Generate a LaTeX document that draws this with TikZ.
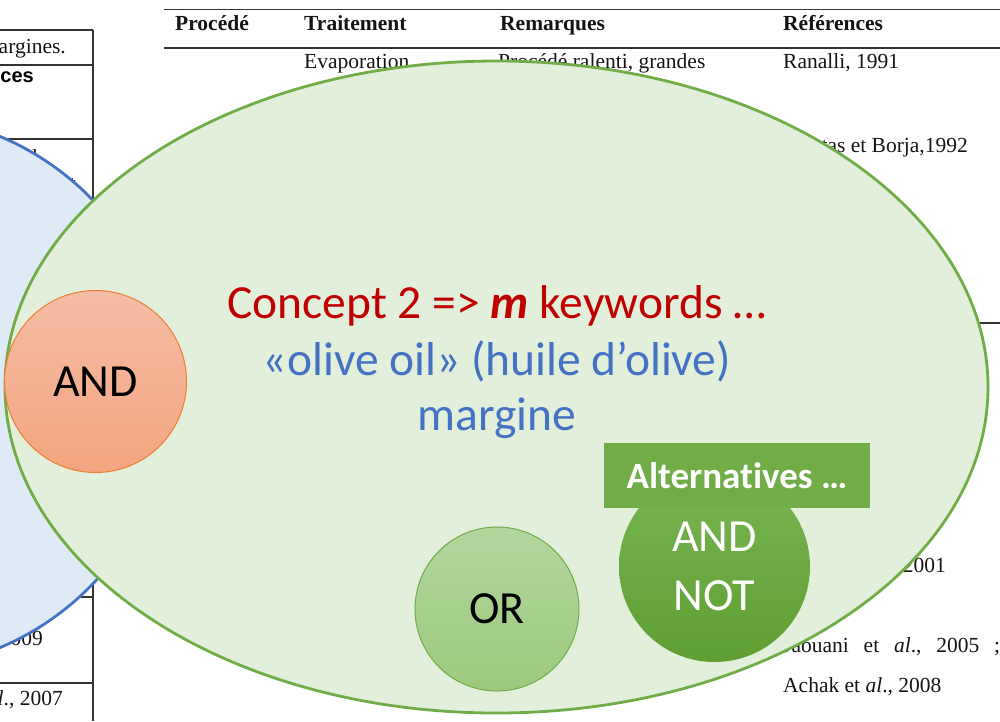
\documentclass[tikz,border=0pt]{standalone}
\usepackage{fontspec}
\setmainfont{Carlito}[Ligatures=NoCommon]
\newfontfamily\tnr{Liberation Serif}
\newfontfamily\arial{Liberation Sans}
\usetikzlibrary{shapes.geometric}
\definecolor{cfill}{HTML}{E2EFDA}
\definecolor{cdraw}{HTML}{70AD47}
\definecolor{bfill}{HTML}{DEEBF7}
\definecolor{bdraw}{HTML}{4472C4}
\definecolor{andtop}{HTML}{F5BDA5}
\definecolor{andbot}{HTML}{F4A480}
\definecolor{anddraw}{HTML}{ED7D31}
\definecolor{ortop}{HTML}{B3D69D}
\definecolor{orbot}{HTML}{9CC97E}
\definecolor{nottop}{HTML}{78B552}
\definecolor{notbot}{HTML}{5E9F33}
\definecolor{redtxt}{HTML}{C00000}
\definecolor{bluetxt}{HTML}{4472C4}
\begin{document}
\begin{tikzpicture}[x=1pt,y=-1pt,
  tbl/.style={font=\tnr\fontsize{21.5}{26}\selectfont, inner sep=0pt, text=black!92},
  tblb/.style={font=\tnr\bfseries\fontsize{21.5}{26}\selectfont, inner sep=0pt, text=black!92},
  rule/.style={line width=1.3pt, black!80},
  big/.style={font=\fontsize{47.5}{57}\selectfont, inner sep=0pt},
  opcircle/.style={circle, inner sep=0pt, line width=1pt, font=\fontsize{46}{59}\selectfont, align=center}
]
\useasboundingbox (0,0) rectangle (1000,721);
\clip (0,0) rectangle (1000,721);

% ---- background document fragments ----
\coordinate (l1a) at (0,30);   \coordinate (l1b) at (93,30);
\coordinate (l2a) at (0,65);   \coordinate (l2b) at (93,65);
\coordinate (l3a) at (0,139);  \coordinate (l3b) at (93,139);
\coordinate (l4a) at (0,597);  \coordinate (l4b) at (93,597);
\coordinate (l5a) at (0,683);  \coordinate (l5b) at (93,683);
\coordinate (vt) at (93,30);   \coordinate (vb) at (93,721);
\draw[rule] (l1a) -- (l1b) (l2a) -- (l2b) (l3a) -- (l3b) (l4a) -- (l4b) (l5a) -- (l5b) (vt) -- (vb);
\node[tbl, anchor=base east] (t1) at (66,53) {margines.};
\node[anchor=base east, inner sep=0pt, font=\arial\bfseries\fontsize{20}{24}\selectfont] (t2) at (34,82) {Références};
\node[tbl, anchor=base east] (t3) at (49,164) {al.,};
\node[tbl, anchor=base east] (t4) at (76,190) {et};
\node[tbl, anchor=base east] (t5) at (43,645) {2009};
\node[tbl, anchor=base east] (t6) at (63,705) {et \textit{al}., 2007};

\coordinate (r1a) at (164,9.5); \coordinate (r1b) at (1000,9.5);
\coordinate (r2a) at (164,48);  \coordinate (r2b) at (1000,48);
\coordinate (r3a) at (600,323); \coordinate (r3b) at (1000,323);
\draw[rule] (r1a) -- (r1b) (r2a) -- (r2b) (r3a) -- (r3b);
\node[tblb, anchor=base west] (h1) at (175,30) {Procédé};
\node[tblb, anchor=base west] (h2) at (304,30) {Traitement};
\node[tblb, anchor=base west] (h3) at (500,30) {Remarques};
\node[tblb, anchor=base west] (h4) at (783,30) {Références};
\node[tbl, anchor=base west] (e1) at (304,68) {Evaporation};
\node[tbl, anchor=base west] (e2) at (498,68) {Procédé ralenti, grandes};
\node[tbl, anchor=base west] (e3) at (783,68) {Ranalli, 1991};
\node[tbl, anchor=base east] (e4) at (968,152) {Fiestas et Borja,1992};
\node[tbl, anchor=base east] (e5) at (946,572) {et \textit{al}., 2001};
\node[tbl, anchor=base west] (e6) at (783,652) {\hbox to 217pt{Jaouani\hfill et\hfill \textit{al}.,\hfill 2005\hfill;}};
\node[tbl, anchor=base west] (e7) at (783,692) {Achak et \textit{al}., 2008};

% ---- concept 1 (blue) ----
\node[circle, minimum size=554pt, inner sep=0pt, fill=bfill, draw=bdraw, line width=2.8pt] (concept1) at (-107,392) {};

% ---- concept 2 (green) ----
\node[ellipse, minimum width=983pt, minimum height=652pt, inner sep=0pt, fill=cfill, draw=cdraw, line width=2.8pt] (concept2) at (496.5,387) {};

\node[big, anchor=base, text=redtxt] (k1) at (497,318) {Concept 2 => \textbf{\textit{m}} keywords …};
\node[big, anchor=base, text=bluetxt] (k2) at (497,375) {«olive oil» (huile d’olive)};
\node[big, anchor=base, text=bluetxt] (k3) at (497,430) {margine};

% ---- operators ----
\node[opcircle, minimum size=182pt, top color=andtop, bottom color=andbot, draw=anddraw] (and) at (95.5,381.5) {AND};
\node[opcircle, minimum size=164pt, top color=ortop, bottom color=orbot, draw=cdraw] (or) at (497,609) {OR};
\node[opcircle, minimum size=191pt, top color=nottop, bottom color=notbot, draw=none, text=white] (andnot) at (714.5,566.5) {AND\\NOT};

\node[rectangle, minimum width=266pt, minimum height=65pt, inner sep=0pt, fill=cdraw, text=white, font=\bfseries\fontsize{37}{40}\selectfont] (alt) at (737,475.5) {Alternatives …};
\end{tikzpicture}
\end{document}
